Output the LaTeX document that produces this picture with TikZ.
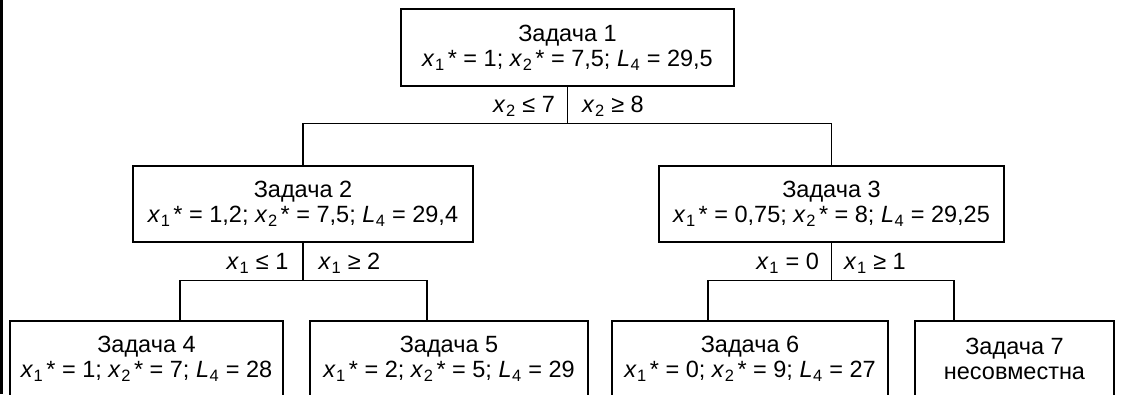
\documentclass[tikz,border=0pt]{standalone}
\usepackage{fontspec}
\setmainfont{Liberation Sans}
\newcommand\xv[1]{\textit{x}\kern0.5pt\textsubscript{#1}}
\newcommand\xa[1]{\xv{#1}\kern3pt*}
\newcommand\Lv{\textit{L}\kern0.5pt\textsubscript{4}}
\tikzset{
  task/.style={draw, line width=1.3pt, minimum height=76pt, align=center,
    inner sep=0pt, font=\fontsize{23.5}{25}\selectfont},
  cond/.style={inner sep=0pt, font=\fontsize{23.5}{25}\selectfont},
}
\begin{document}
\begin{tikzpicture}[x=1pt, y=1pt, line width=1.3pt]
  \def\W{1122}
  \def\H{394}
  \useasboundingbox (0,0) rectangle (\W,-\H);
  \draw[line width=3pt] (1.5,0) -- (1.5,-\H);
  \node[task, minimum width=333pt, minimum height=77pt] (t1) at (567.5,-47.5)
    {Задача 1\\ \xa1 = 1; \xa2 = 7,5; \Lv{} = 29,5};
  \node[task, minimum width=340pt] (t2) at (303,-204)
    {Задача 2\\ \xa1 = 1,2; \xa2 = 7,5; \Lv{} = 29,4};
  \node[task, minimum width=345pt] (t3) at (831.5,-204)
    {Задача 3\\ \xa1 = 0,75; \xa2 = 8; \Lv{} = 29,25};
  \node[task, minimum width=273pt] (t4) at (146.5,-359)
    {Задача 4\\ \xa1 = 1; \xa2 = 7; \Lv{} = 28};
  \node[task, minimum width=278pt] (t5) at (449,-359)
    {Задача 5\\ \xa1 = 2; \xa2 = 5; \Lv{} = 29};
  \node[task, minimum width=276pt] (t6) at (750,-359)
    {Задача 6\\ \xa1 = 0; \xa2 = 9; \Lv{} = 27};
  \node[task, minimum width=199pt] (t7) at (1014.5,-359)
    {Задача 7\\ несовместна};
  \coordinate (c4) at (180,-321);
  \coordinate (c5) at (427,-321);
  \coordinate (c6) at (708,-321);
  \coordinate (c7) at (954,-321);
  \draw (t1.south) -- ++(0,-37) coordinate (s1);
  \draw (t2.north) |- (s1) -| (t3.north);
  \draw (t2.south) -- ++(0,-38) coordinate (s2);
  \draw (c4) |- (s2) -| (c5);
  \draw (t3.south) -- ++(0,-38) coordinate (s3);
  \draw (c6) |- (s3) -| (c7);
  \node[cond, anchor=base east] (b1) at ([shift={(-12,11)}]s1) {\xv2 ≤ 7};
  \node[cond, anchor=base west] (b2) at ([shift={(14,11)}]s1) {\xv2 ≥ 8};
  \node[cond, anchor=base east] (b3) at ([shift={(-14,11)}]s2) {\xv1 ≤ 1};
  \node[cond, anchor=base west] (b4) at ([shift={(15,11)}]s2) {\xv1 ≥ 2};
  \node[cond, anchor=base east] (b5) at ([shift={(-12,11)}]s3) {\xv1 = 0};
  \node[cond, anchor=base west] (b6) at ([shift={(12,11)}]s3) {\xv1 ≥ 1};
\end{tikzpicture}
\end{document}
